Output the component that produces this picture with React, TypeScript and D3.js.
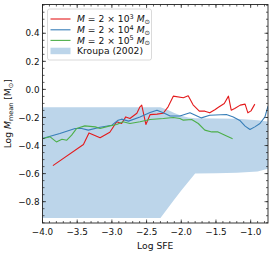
import React from "react";
import * as d3 from "d3";

const redX = [-3.85, -3.41, -3.33, -3.17, -3.03, -2.93, -2.86, -2.8, -2.74, -2.64, -2.595, -2.57, -2.51, -2.45, -2.35, -2.26, -2.19, -2.115, -1.97, -1.9, -1.83, -1.74, -1.66, -1.59, -1.51, -1.47, -1.38, -1.32, -1.28, -1.23, -1.15, -1.08, -1.04, -0.995, -0.94];
const redY = [-0.543, -0.393, -0.31, -0.345, -0.305, -0.23, -0.243, -0.196, -0.207, -0.17, -0.124, -0.112, -0.25, -0.18, -0.176, -0.17, -0.124, -0.048, -0.06, -0.046, -0.11, -0.155, -0.155, -0.167, -0.143, -0.129, -0.1, -0.048, -0.148, -0.136, -0.112, -0.105, -0.167, -0.153, -0.105];

const blueX = [-3.99, -3.75, -3.53, -3.435, -3.34, -3.17, -3.0, -2.91, -2.86, -2.76, -2.595, -2.45, -2.35, -2.26, -2.16, -2.02, -1.875, -1.71, -1.59, -1.35, -1.25, -1.15, -1.08, -1.01, -0.94, -0.866, -0.794, -0.75];
const blueY = [-0.348, -0.314, -0.279, -0.279, -0.29, -0.27, -0.255, -0.22, -0.212, -0.226, -0.196, -0.165, -0.148, -0.167, -0.19, -0.19, -0.167, -0.203, -0.184, -0.179, -0.196, -0.224, -0.262, -0.286, -0.267, -0.243, -0.196, -0.12];

const greenX = [-3.99, -3.89, -3.8, -3.72, -3.65, -3.58, -3.51, -3.39, -3.24, -3.17, -3.03, -2.93, -2.84, -2.74, -2.595, -2.45, -2.26, -2.115, -2.02, -1.97, -1.85, -1.755, -1.66, -1.56, -1.47, -1.37, -1.26];
const greenY = [-0.35, -0.338, -0.374, -0.355, -0.362, -0.326, -0.279, -0.26, -0.267, -0.279, -0.26, -0.25, -0.231, -0.243, -0.231, -0.214, -0.207, -0.2, -0.207, -0.219, -0.214, -0.243, -0.29, -0.303, -0.303, -0.326, -0.352];

const bandX = [-4, -2.3, -2.2, -2.1, -2.0, -1.9, -1.8, -1.5, -1.2, -0.9, -0.75];
const bandUpper = [-0.127, -0.128, -0.145, -0.168, -0.188, -0.2, -0.205, -0.207, -0.21, -0.22, -0.228];
const bandLower = [-0.916, -0.916, -0.85, -0.785, -0.72, -0.66, -0.6, -0.598, -0.594, -0.585, -0.566];

const xTicks = [-4.0, -3.5, -3.0, -2.5, -2.0, -1.5, -1.0];
const yTicks = [0.4, 0.2, 0.0, -0.2, -0.4, -0.6, -0.8];
const legendExponents = ["3", "4", "5"];

const W = 274, H = 254;
const L = 42.5, R = 268, T = 4.5, B = 223;
const RED = "#e41a1c", BLUE = "#377eb8", GREEN = "#4daf4a", BAND = "#bcd5ea";
const FONT = "DejaVu Sans";

export default function App() {
  const x = d3.scaleLinear().domain([-4, -0.75]).range([L, R]);
  const y = d3.scaleLinear().domain([-0.952, 0.605]).range([B, T]);

  const line = d3.line<[number, number]>().x(d => x(d[0])).y(d => y(d[1]));
  const zip = (a: number[], b: number[]) => a.map((v, i) => [v, b[i]] as [number, number]);
  const area = d3.area<number>()
    .x((_, i) => x(bandX[i]))
    .y0((_, i) => y(bandLower[i]))
    .y1((_, i) => y(bandUpper[i]));

  const fmt = (v: number) => (v < 0 ? "\u2212" : "") + Math.abs(v).toFixed(1);

  const xMinor = d3.range(-40, -7).map(v => v / 10).filter(v => v >= -4 && v <= -0.75);
  const yMinor = d3.range(-19, 13).map(v => v / 20).filter(v => v >= -0.95 && v <= 0.6);

  const series = [
    { c: RED, xs: redX, ys: redY },
    { c: BLUE, xs: blueX, ys: blueY },
    { c: GREEN, xs: greenX, ys: greenY },
  ];

  const legX = 47.5, legY = 9, legW = 104, legH = 51;
  const rowY = [19, 29.8, 40.4, 51];

  return (
    <svg width={W} height={H} style={{ position: "absolute", left: 0, top: 0, display: "block" }} fontFamily={FONT}>
      <rect x={0} y={0} width={W} height={H} fill="white" />
      <defs>
        <clipPath id="ax">
          <rect x={L} y={T} width={R - L} height={B - T} />
        </clipPath>
      </defs>
      <g clipPath="url(#ax)">
        <path d={area(bandX) || ""} fill={BAND} />
        {series.map((s, i) => (
          <path key={i} d={line(zip(s.xs, s.ys)) || ""} fill="none" stroke={s.c} strokeWidth={1.1} strokeLinejoin="round" />
        ))}
      </g>
      {/* ticks */}
      <g stroke="#222" strokeWidth={0.7}>
        {xTicks.map(t => (
          <g key={"xt" + t}>
            <line x1={x(t)} x2={x(t)} y1={B} y2={B - 3.5} />
            <line x1={x(t)} x2={x(t)} y1={T} y2={T + 3.5} />
          </g>
        ))}
        {xMinor.map(t => (
          <g key={"xm" + t}>
            <line x1={x(t)} x2={x(t)} y1={B} y2={B - 2} />
            <line x1={x(t)} x2={x(t)} y1={T} y2={T + 2} />
          </g>
        ))}
        {yTicks.map(t => (
          <g key={"yt" + t}>
            <line x1={L} x2={L + 3.5} y1={y(t)} y2={y(t)} />
            <line x1={R} x2={R - 3.5} y1={y(t)} y2={y(t)} />
          </g>
        ))}
        {yMinor.map(t => (
          <g key={"ym" + t}>
            <line x1={L} x2={L + 2} y1={y(t)} y2={y(t)} />
            <line x1={R} x2={R - 2} y1={y(t)} y2={y(t)} />
          </g>
        ))}
      </g>
      <rect x={L} y={T} width={R - L} height={B - T} fill="none" stroke="#222" strokeWidth={0.9} />
      {/* tick labels */}
      <g fontSize={8.8} fill="#111">
        {xTicks.map(t => (
          <text key={"xl" + t} x={x(t)} y={B + 11.5} textAnchor="middle">{fmt(t)}</text>
        ))}
        {yTicks.map(t => (
          <text key={"yl" + t} x={L - 3} y={y(t) + 3.2} textAnchor="end">{fmt(t)}</text>
        ))}
      </g>
      {/* axis labels */}
      <text x={(L + R) / 2} y={249} textAnchor="middle" fontSize={9.2} fill="#111">Log SFE</text>
      <text transform={`translate(11, ${(T + B) / 2}) rotate(-90)`} textAnchor="middle" fontSize={9.2} fill="#111">
        Log <tspan fontStyle="italic">M</tspan>
        <tspan fontSize={6.5} dy={2}>mean</tspan>
        <tspan dy={-2}> [M</tspan>
        <tspan fontSize={6.5} dy={2}>{"\u2299"}</tspan>
        <tspan dy={-2}>]</tspan>
      </text>
      {/* legend */}
      <rect x={legX} y={legY} width={legW} height={legH} rx={2} fill="white" fillOpacity={0.8} stroke="#d0d0d0" strokeWidth={0.8} />
      {series.map((s, i) => (
        <g key={"lg" + i}>
          <line x1={50.5} x2={70.5} y1={rowY[i]} y2={rowY[i]} stroke={s.c} strokeWidth={1.1} />
          <text x={77} y={rowY[i] + 3.3} fontSize={9.2} fill="#111">
            <tspan fontStyle="italic">M</tspan>
            <tspan> = 2 × 10</tspan>
            <tspan fontSize={6.5} dy={-3.5}>{legendExponents[i]}</tspan>
            <tspan dy={3.5}> </tspan>
            <tspan fontStyle="italic">M</tspan>
            <tspan fontSize={6.5} dy={1.5}>{"\u2299"}</tspan>
          </text>
        </g>
      ))}
      <rect x={50.5} y={rowY[3] - 3.3} width={20} height={6.5} fill={BAND} />
      <text x={77} y={rowY[3] + 3.3} fontSize={9.2} fill="#111">Kroupa (2002)</text>
    </svg>
  );
}
